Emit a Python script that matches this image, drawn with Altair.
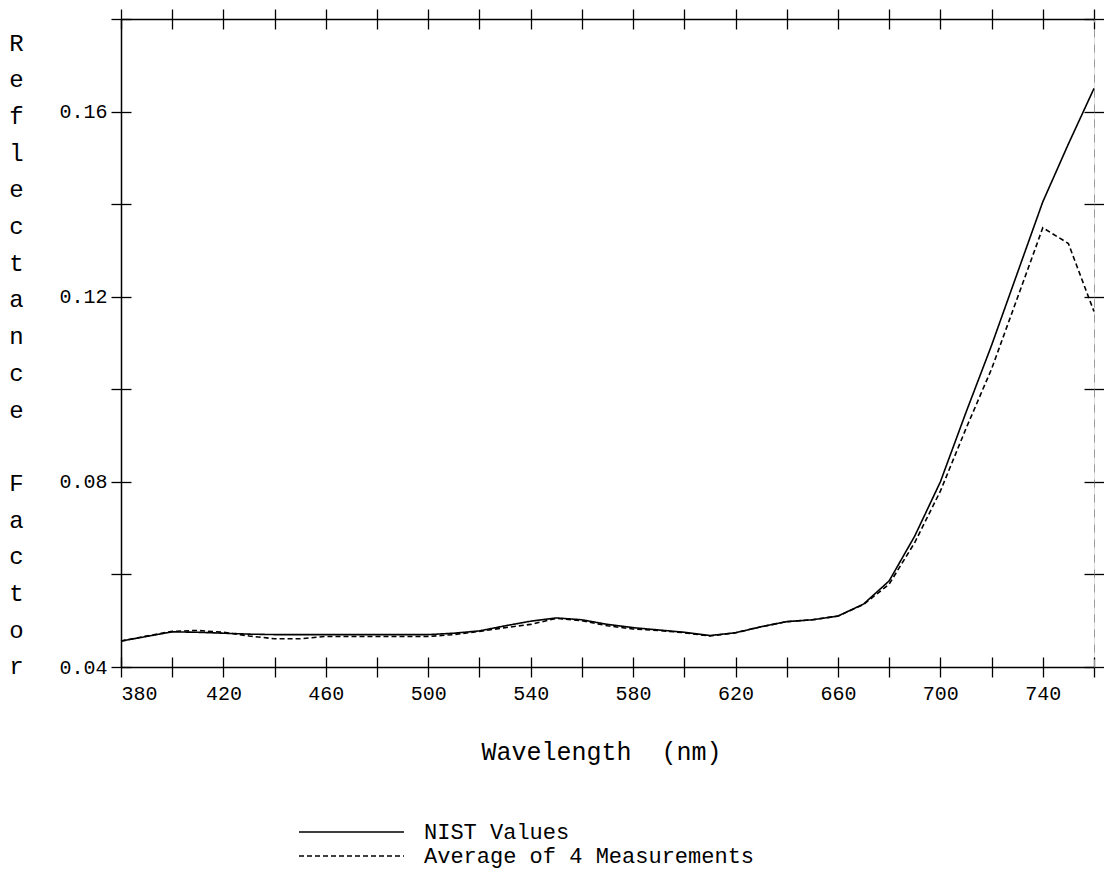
import altair as alt
import pandas as pd

# ---- data ----
wavelength = list(range(380, 761, 10))
nist_values = [
    0.0456, 0.0466, 0.0476, 0.0475, 0.0473, 0.0471, 0.0470, 0.0470, 0.0470, 0.0470,
    0.0470, 0.0470, 0.0470, 0.0473, 0.0478, 0.0489, 0.0499, 0.0506, 0.0502, 0.0492,
    0.0485, 0.0480, 0.0475, 0.0468, 0.0474, 0.0487, 0.0498, 0.0502, 0.0510, 0.0536,
    0.0586, 0.0683, 0.0800, 0.0950, 0.1095, 0.1250, 0.1405, 0.1530, 0.1650,
]
avg_values = [
    0.0456, 0.0467, 0.0477, 0.0479, 0.0475, 0.0467, 0.0461, 0.0461, 0.0466, 0.0466,
    0.0466, 0.0466, 0.0466, 0.0470, 0.0477, 0.0485, 0.0492, 0.0505, 0.0500, 0.0489,
    0.0482, 0.0479, 0.0474, 0.0467, 0.0474, 0.0487, 0.0498, 0.0502, 0.0510, 0.0535,
    0.0579, 0.0669, 0.0780, 0.0915, 0.1044, 0.1196, 0.1349, 0.1315, 0.1168,
]
series_names = ["NIST Values", "Average of 4 Measurements"]
x_ticks = list(range(380, 761, 20))
y_ticks = [0.04, 0.06, 0.08, 0.10, 0.12, 0.14, 0.16, 0.18]
x_title = "Wavelength\u00a0\u00a0(nm)"
y_title_word1 = list("Reflectance")
y_title_word2 = list("Factor")

rows = []
for w, v in zip(wavelength, nist_values):
    rows.append({"wl": w, "rf": v, "series": series_names[0]})
for w, v in zip(wavelength, avg_values):
    rows.append({"wl": w, "rf": v, "series": series_names[1]})
df = pd.DataFrame(rows)

FONT = "Liberation Mono"
TICK = 10
LINE_H = 36.7
TITLE_Y0 = 12

x_scale = alt.Scale(domain=[380, 760], nice=False, zero=False)
y_scale = alt.Scale(domain=[0.04, 0.18], nice=False, zero=False)
dash_scale = alt.Scale(domain=series_names, range=[[1, 0], [5, 3]])

base = alt.Chart(df)

y_title_style = dict(
    titleFont=FONT, titleFontSize=24, titleFontWeight="normal", titleColor="black",
    titleAngle=0, titleAlign="center", titleBaseline="top", titleLineHeight=LINE_H,
)


def xaxis(orient, inward=False, labels=False, domain=True, **kw):
    opts = dict(
        orient=orient, values=x_ticks, grid=False, tickSize=TICK, tickColor="black",
        tickWidth=1.3, domain=domain, domainColor="black", domainWidth=1.5,
        labels=labels, title=None,
    )
    if inward:
        opts["offset"] = -TICK
        opts["domain"] = False
    opts.update(kw)
    return alt.Axis(**opts)


def yaxis(orient, inward=False, labels=False, domain=True, **kw):
    opts = dict(
        orient=orient, values=y_ticks, grid=False, tickSize=TICK, tickColor="black",
        tickWidth=1.3, domain=domain, domainColor="black", domainWidth=1.5,
        labels=labels, title=None,
    )
    if inward:
        opts["offset"] = -TICK
        opts["domain"] = False
    opts.update(kw)
    return alt.Axis(**opts)


legend = alt.Legend(
    title=None, orient="none", legendX=177, legendY=801, direction="vertical",
    symbolType="stroke", symbolSize=11025, symbolStrokeWidth=1.5,
    symbolStrokeColor="black", clipHeight=24, rowPadding=0, padding=0,
    labelFont=FONT, labelFontSize=22, labelColor="black", labelOffset=19,
    labelLimit=0,
)

lines = base.mark_line(color="black", strokeWidth=1.6).encode(
    x=alt.X("wl:Q", scale=x_scale, axis=xaxis(
        "bottom", labels=True,
        labelExpr="datum.value % 40 == 20 ? datum.label : ''",
        labelFont=FONT, labelFontSize=20, labelColor="black", labelPadding=6,
        title=x_title, titleFont=FONT, titleFontSize=25, titleFontWeight="normal",
        titleColor="black", titleX=480, titleY=92, titleAlign="center",
        titleBaseline="alphabetic",
    )),
    y=alt.Y("rf:Q", scale=y_scale, axis=yaxis(
        "left", labels=True, format=".2f",
        labelExpr="round(datum.value * 100) % 4 == 0 ? datum.label : ''",
        labelFont=FONT, labelFontSize=20, labelColor="black", labelPadding=4,
        title=y_title_word1, titleX=-105, titleY=TITLE_Y0, **y_title_style,
    )),
    strokeDash=alt.StrokeDash("series:N", scale=dash_scale, legend=legend),
)

ghost = base.mark_line(strokeOpacity=0)

layer_in = ghost.encode(
    x=alt.X("wl:Q", scale=x_scale, axis=xaxis("bottom", inward=True)),
    y=alt.Y("rf:Q", scale=y_scale, axis=yaxis(
        "left", inward=True,
        title=y_title_word2, titleX=-105 - TICK,
        titleY=TITLE_Y0 + (len(y_title_word1) + 1) * LINE_H, **y_title_style,
    )),
)
layer_out2 = ghost.encode(
    x=alt.X("wl:Q", scale=x_scale, axis=xaxis("top")),
    y=alt.Y("rf:Q", scale=y_scale, axis=yaxis(
        "right", domainColor="#9a9a9a", domainWidth=1, domainDash=[8, 7])),
)
layer_in2 = ghost.encode(
    x=alt.X("wl:Q", scale=x_scale, axis=xaxis("top", inward=True)),
    y=alt.Y("rf:Q", scale=y_scale, axis=yaxis("right", inward=True)),
)

chart = alt.layer(lines, layer_in, layer_out2, layer_in2).resolve_axis(
    x="independent", y="independent"
).properties(
    width=973, height=648,
    padding={"left": 113, "top": 11, "right": 10, "bottom": 206},
    autosize=alt.AutoSizeParams(type="none"),
).configure_view(strokeWidth=0).configure(background="white")

chart.save("out.html", embed_options={"renderer": "svg", "actions": False})
